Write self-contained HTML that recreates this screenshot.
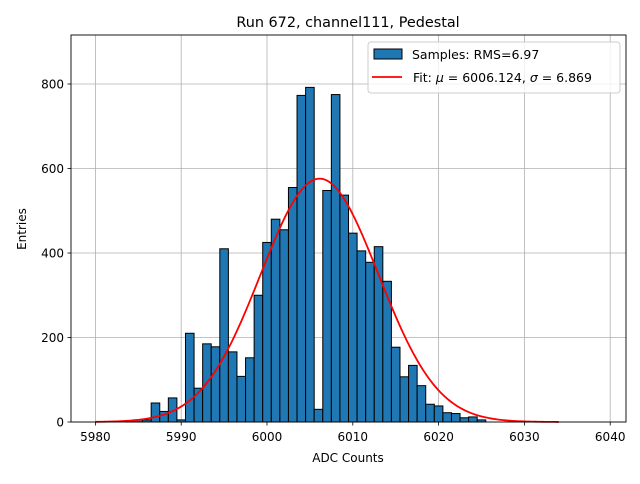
<!DOCTYPE html>
<html><head><meta charset="utf-8"><style>
body{margin:0;background:#fff;font-family:"DejaVu Sans","Liberation Sans",sans-serif;}
svg text{font-family:"DejaVu Sans","Liberation Sans",sans-serif;}
</style></head><body>
<svg id="chart" width="640" height="480" xmlns="http://www.w3.org/2000/svg">
<rect width="640" height="480" fill="#fff"/>
<g id="grid"></g>
<g id="bars"></g>
<path id="fit" fill="none" stroke="#ff0000" stroke-width="1.8"/>
<rect x="71" y="35" width="555" height="387" fill="none" stroke="#000" stroke-width="0.9"/>
<g id="ticks"></g>
<text x="348" y="27" font-size="14.4" text-anchor="middle">Run 672, channel111, Pedestal</text>
<text x="348" y="462" font-size="12" text-anchor="middle">ADC Counts</text>
<text x="26" y="229" font-size="12" text-anchor="middle" transform="rotate(-90 26 229)">Entries</text>
<g>
<rect x="368" y="42" width="252" height="51" rx="3" fill="#fff" fill-opacity="0.8" stroke="#ccc"/>
<rect x="374" y="49" width="28" height="10" fill="#1f77b4" stroke="#000"/>
<text x="412" y="59" font-size="12.5">Samples: RMS=6.97</text>
<line x1="372" y1="77" x2="402" y2="77" stroke="#ff0000" stroke-width="1.8"/>
<text x="413" y="82" font-size="12.5">Fit: <tspan font-style="italic">μ</tspan> = 6006.124, <tspan font-style="italic">σ</tspan> = 6.869</text>
</g>
</svg>
<script>
const binStarts=[5983.5,5984.5,5985.5,5986.5,5987.5,5988.5,5989.5,5990.5,5991.5,5992.5,5993.5,5994.5,5995.5,5996.5,5997.5,5998.5,5999.5,6000.5,6001.5,6002.5,6003.5,6004.5,6005.5,6006.5,6007.5,6008.5,6009.5,6010.5,6011.5,6012.5,6013.5,6014.5,6015.5,6016.5,6017.5,6018.5,6019.5,6020.5,6021.5,6022.5,6023.5,6024.5];
const counts=[3,5,5,45,25,57,5,210,80,185,178,410,166,108,152,300,425,480,455,555,773,792,30,548,775,537,447,405,378,415,333,177,107,134,86,42,38,22,20,10,12,5];
const xTicks=[5980,5990,6000,6010,6020,6030,6040];
const yTicks=[0,200,400,600,800];
const fitMu=6006.124, fitSigma=6.869, fitAmp=576, fitMin=5980, fitMax=6034;
const NS="http://www.w3.org/2000/svg";
const X=v=>267+(v-6000)*8.58;
const Y=v=>422-v*0.4225;
function mk(t,a,p){const e=document.createElementNS(NS,t);for(const k in a)e.setAttribute(k,a[k]);p.appendChild(e);return e;}
const grid=document.getElementById('grid'),ticks=document.getElementById('ticks'),bars=document.getElementById('bars');
xTicks.forEach(t=>{
 const g=mk('line',{x1:X(t),x2:X(t),y1:35,y2:422,stroke:'#b0b0b0','stroke-width':0.8},grid);
 
 
 mk('line',{x1:X(t),x2:X(t),y1:422,y2:425.5,stroke:'#000','stroke-width':0.8},ticks);
 const l=mk('text',{x:X(t),y:441,'font-size':12,'text-anchor':'middle'},ticks);l.textContent=t;
 
 
});
yTicks.forEach(t=>{
 const g=mk('line',{x1:71,x2:626,y1:Y(t),y2:Y(t),stroke:'#b0b0b0','stroke-width':0.8},grid);
 
 
 mk('line',{x1:67.5,x2:71,y1:Y(t),y2:Y(t),stroke:'#000','stroke-width':0.8},ticks);
 const l=mk('text',{x:64,y:Y(t)+4.5,'font-size':12,'text-anchor':'end'},ticks);l.textContent=t;
 
 
});
binStarts.forEach((b,i)=>{
 const r=mk('rect',{x:X(b),y:Y(counts[i]),width:X(b+1)-X(b),height:Y(0)-Y(counts[i]),fill:'#1f77b4',stroke:'#000','stroke-width':1},bars);
 
 
});
let d='';
for(let i=0;i<=200;i++){const v=fitMin+(fitMax-fitMin)*i/200;const c=fitAmp*Math.exp(-0.5*((v-fitMu)/fitSigma)**2);d+=(i?'L':'M')+X(v).toFixed(2)+','+Y(c).toFixed(2);}
document.getElementById('fit').setAttribute('d',d);
</script>
</body></html>
